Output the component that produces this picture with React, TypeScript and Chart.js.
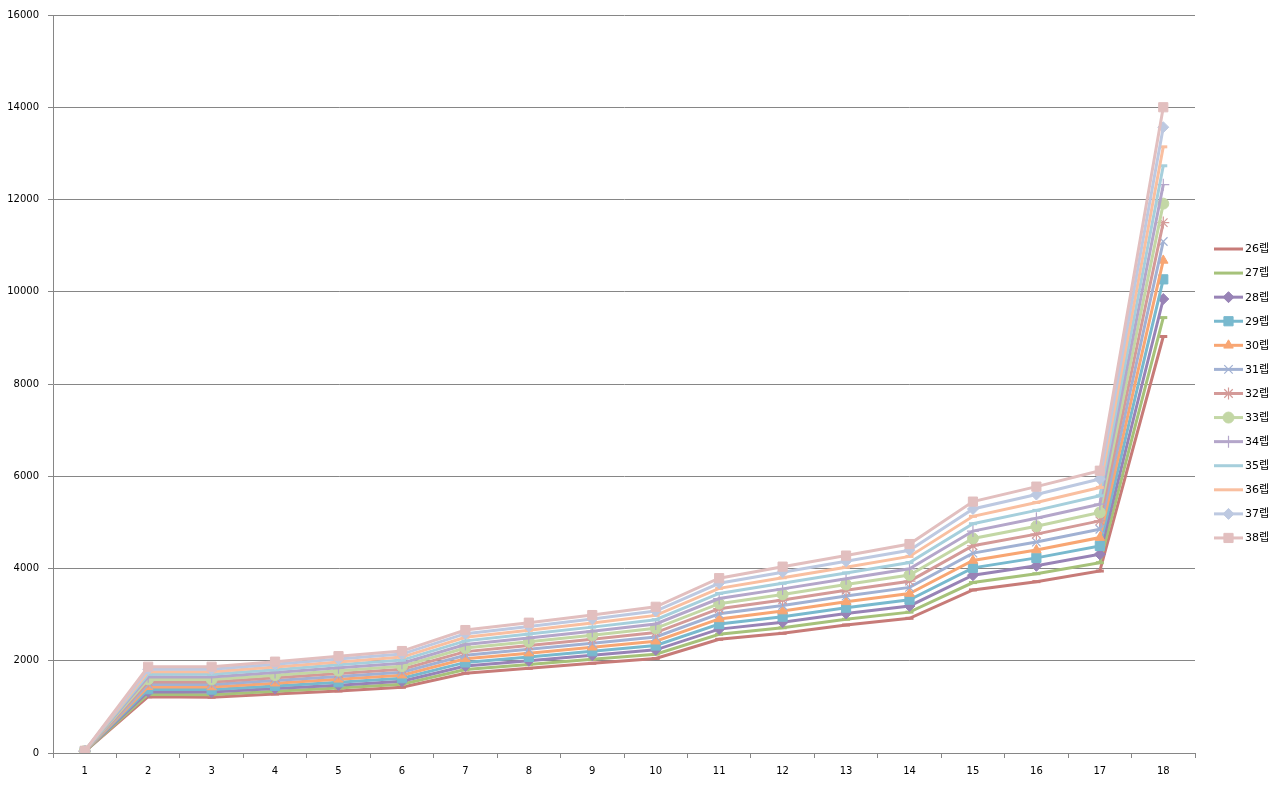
import React, { useEffect, useRef } from 'react';
import { Chart, registerables } from 'chart.js';
import { drawPoint } from 'chart.js/helpers';

Chart.register(...registerables);

const categories = ['1', '2', '3', '4', '5', '6', '7', '8', '9', '10', '11', '12', '13', '14', '15', '16', '17', '18'];

const seriesNames = ['26렙', '27렙', '28렙', '29렙', '30렙', '31렙', '32렙', '33렙', '34렙', '35렙', '36렙', '37렙', '38렙'];

const s26 = [30, 1220, 1210, 1280, 1345, 1425, 1730, 1835, 1945, 2050, 2465, 2595, 2775, 2920, 3535, 3715, 3945, 9030];
const s27 = [32, 1274, 1265, 1338, 1408, 1490, 1808, 1918, 2032, 2143, 2575, 2715, 2900, 3054, 3695, 3887, 4126, 9440];
const s28 = [33, 1328, 1320, 1397, 1471, 1556, 1886, 2000, 2119, 2237, 2686, 2836, 3026, 3188, 3854, 4058, 4308, 9843];
const s29 = [34, 1383, 1375, 1455, 1534, 1621, 1964, 2083, 2206, 2330, 2796, 2956, 3151, 3323, 4014, 4230, 4489, 10269];
const s30 = [36, 1437, 1430, 1513, 1597, 1687, 2042, 2165, 2293, 2423, 2907, 3077, 3277, 3457, 4173, 4402, 4670, 10679];
const s31 = [38, 1491, 1485, 1572, 1660, 1752, 2120, 2248, 2380, 2517, 3017, 3197, 3402, 3591, 4333, 4573, 4851, 11090];
const s32 = [39, 1545, 1540, 1630, 1723, 1818, 2198, 2330, 2468, 2610, 3128, 3318, 3528, 3725, 4493, 4745, 5033, 11500];
const s33 = [40, 1599, 1595, 1688, 1785, 1883, 2275, 2413, 2555, 2703, 3238, 3438, 3653, 3859, 4652, 4917, 5214, 11910];
const s34 = [42, 1653, 1650, 1747, 1848, 1948, 2353, 2495, 2642, 2797, 3348, 3558, 3778, 3993, 4812, 5088, 5395, 12321];
const s35 = [44, 1708, 1705, 1805, 1911, 2014, 2431, 2578, 2729, 2890, 3459, 3679, 3904, 4128, 4971, 5260, 5576, 12731];
const s36 = [45, 1762, 1760, 1863, 1974, 2079, 2509, 2660, 2816, 2983, 3569, 3799, 4029, 4262, 5131, 5432, 5758, 13142];
const s37 = [46, 1816, 1815, 1922, 2037, 2145, 2587, 2743, 2903, 3077, 3680, 3920, 4155, 4396, 5290, 5603, 5939, 13567];
const s38 = [48, 1870, 1870, 1980, 2100, 2210, 2665, 2825, 2990, 3170, 3790, 4040, 4280, 4530, 5450, 5775, 6120, 14000];

const seriesValues = [s26, s27, s28, s29, s30, s31, s32, s33, s34, s35, s36, s37, s38];

const colors = ['#C77B78', '#A6C27A', '#9883B6', '#78B9CE', '#F8A673', '#A1B1D3', '#D49A98', '#C3D7A5', '#B4A6CA', '#A6CFDC', '#F9BFA0', '#BDC9E1', '#E2BFBF'];
const markers = ['line', 'line', 'rectRot', 'rect', 'triangle', 'crossRot', 'star', 'circle', 'cross', 'line', 'line', 'rectRot', 'rect'];

const yTickMin = 0;
const yTickMax = 16000;
const yTickStep = 2000;

const FONT = '"DejaVu Sans", "Noto Sans CJK KR", sans-serif';

function markerRadius(m: string) {
  if (m === 'line') return 4;
  if (m === 'rect') return 6.5;
  if (m === 'crossRot' || m === 'star' || m === 'cross') return 6;
  return 5.5;
}
function markerBorder(m: string) {
  if (m === 'line') return 3;
  if (m === 'crossRot' || m === 'star' || m === 'cross') return 1.2;
  return 1;
}

const legendPlugin = {
  id: 'excelLegend',
  afterDraw(chart: any) {
    const ctx = chart.ctx;
    ctx.save();
    seriesNames.forEach((name, i) => {
      const y = 249 + i * 24.08;
      ctx.strokeStyle = colors[i];
      ctx.lineWidth = 3;
      ctx.beginPath();
      ctx.moveTo(1214, y);
      ctx.lineTo(1243, y);
      ctx.stroke();
      const m = markers[i];
      if (m !== 'line') {
        ctx.fillStyle = colors[i];
        ctx.strokeStyle = colors[i];
        ctx.lineWidth = markerBorder(m);
        drawPoint(ctx, { pointStyle: m, radius: markerRadius(m), borderWidth: markerBorder(m), rotation: 0 } as any, 1228.5, y);
      }
      ctx.fillStyle = '#000000';
      ctx.font = '11px ' + FONT;
      ctx.textBaseline = 'middle';
      ctx.textAlign = 'left';
      ctx.fillText(name, 1245, y + 0.5);
    });
    ctx.restore();
  },
};

export default function App() {
  const canvasRef = useRef<HTMLCanvasElement | null>(null);

  useEffect(() => {
    if (!canvasRef.current) return;
    const datasets = seriesNames.map((name, i) => ({
      label: name,
      data: seriesValues[i],
      borderColor: colors[i],
      backgroundColor: colors[i],
      borderWidth: 3,
      pointStyle: markers[i],
      pointRadius: markerRadius(markers[i]),
      pointBorderWidth: markerBorder(markers[i]),
      pointBackgroundColor: colors[i],
      pointBorderColor: colors[i],
      tension: 0,
      fill: false,
      order: seriesNames.length - 1 - i,
    }));

    const chart = new Chart(canvasRef.current, {
      type: 'line',
      data: { labels: categories, datasets: datasets as any },
      plugins: [legendPlugin],
      options: {
        animation: false,
        responsive: false,
        devicePixelRatio: 1,
        layout: { padding: { top: 15, right: 89, left: 0, bottom: 0 } },
        plugins: {
          legend: { display: false },
          tooltip: { enabled: false },
          title: { display: false },
        },
        scales: {
          x: {
            type: 'category',
            offset: true,
            grid: {
              offset: true,
              drawOnChartArea: false,
              drawTicks: true,
              tickLength: 5,
              color: '#868686',
              lineWidth: 1,
            },
            border: { display: true, color: '#868686', width: 1 },
            ticks: {
              color: '#000000',
              font: { family: FONT, size: 10 },
              padding: 7,
              maxRotation: 0,
              autoSkip: false,
            },
            afterFit(scale: any) {
              scale.height = 33;
            },
          },
          y: {
            type: 'linear',
            min: yTickMin,
            max: yTickMax,
            grid: {
              color: '#868686',
              lineWidth: 1,
              drawTicks: true,
              tickLength: 5,
            },
            border: { display: true, color: '#868686', width: 1 },
            ticks: {
              stepSize: yTickStep,
              color: '#000000',
              font: { family: FONT, size: 10 },
              padding: 9,
              callback: (v: any) => String(v),
            },
            afterFit(scale: any) {
              scale.width = 53;
            },
          },
        },
      },
    });
    return () => chart.destroy();
  }, []);

  return (
    <div style={{ position: 'absolute', left: 0, top: 0, width: 1284, height: 786, background: '#ffffff' }}>
      <canvas ref={canvasRef} width={1284} height={786} style={{ display: 'block' }} />
    </div>
  );
}
